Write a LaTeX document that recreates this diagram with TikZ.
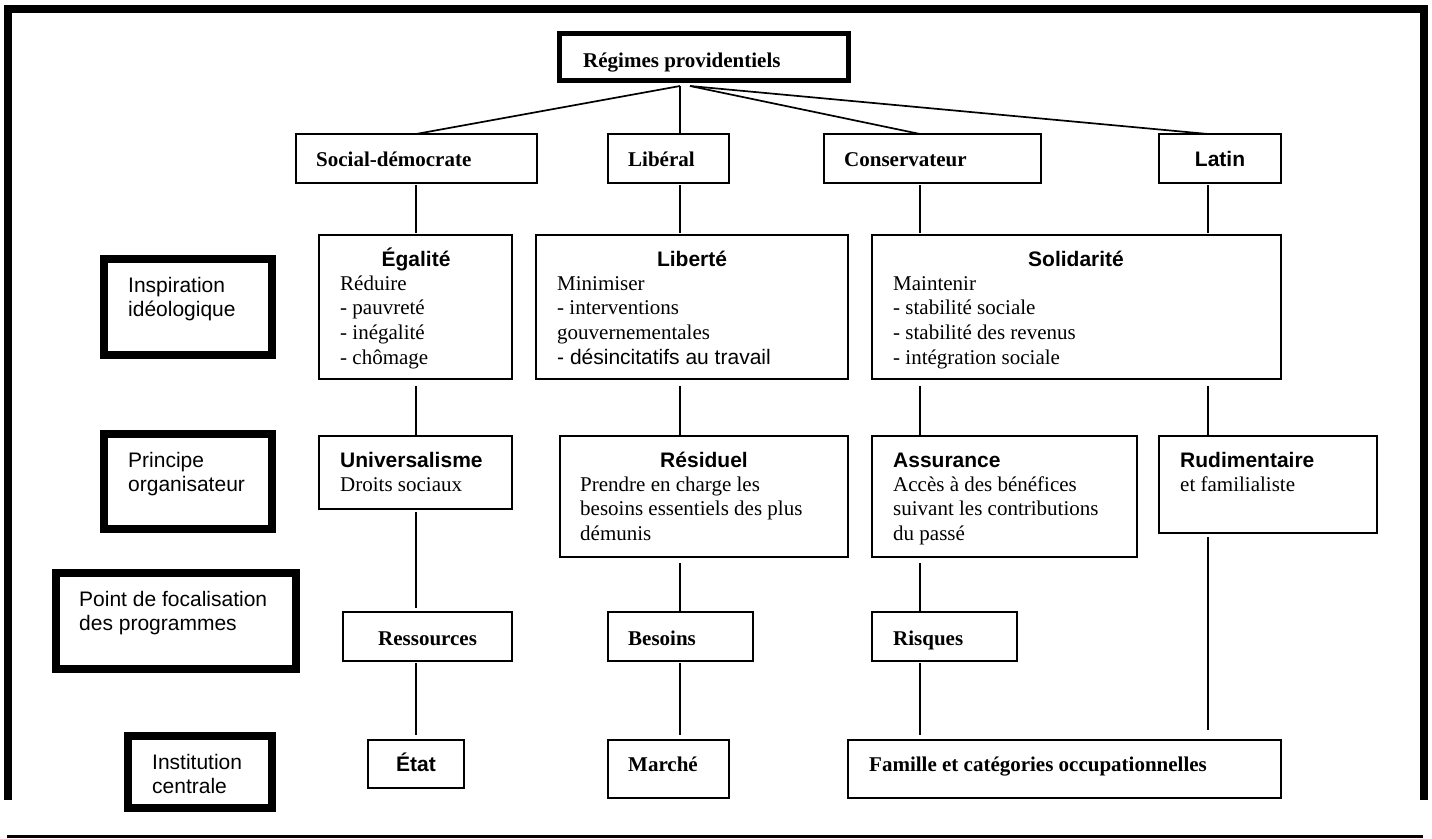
\documentclass[tikz,border=0pt]{standalone}
\usepackage{fontspec}
\setmainfont{Liberation Serif}
\setsansfont{Liberation Sans}
\usetikzlibrary{calc}
% common type size for every text of the chart
\newcommand\chartsize{\fontsize{21}{24.7}\selectfont}
% fixed height for the first line of a text block
\newcommand\firstline{\rule{0pt}{20pt}}
% a box given by its corners (x1,y1) and (x2,y2)
\newcommand\cellbox[6]{\node[#1, minimum width={#5pt-#3pt}, minimum height={#6pt-#4pt}] (#2) at ({(#3+#5)/2},{(#4+#6)/2}) {};}
\begin{document}
\begin{tikzpicture}[x=1pt,y=-1pt,
  cell/.style={draw, line width=1.8pt, inner sep=0pt, outer sep=0pt},
  rowlabel/.style={draw, line width=7.5pt, inner sep=0pt, outer sep=0pt},
  root/.style={draw, line width=5pt, inner sep=0pt, outer sep=0pt},
  link/.style={line width=1.7pt},
  frame/.style={line width=8pt},
  hd/.style={font=\chartsize\rmfamily\bfseries, inner sep=0pt, anchor=base west},
  shd/.style={font=\chartsize\sffamily\bfseries, inner sep=0pt, anchor=base west},
  body/.style={font=\chartsize\rmfamily, align=left, inner sep=0pt, anchor=north west},
  sbody/.style={font=\chartsize\sffamily, align=left, inner sep=0pt, anchor=north west},
]
\useasboundingbox (0,0) rectangle (1432,838);

% outer frame, open at the bottom, and the closing rule
\draw[frame] (8,800) -- (8,9) -- (1424,9) -- (1424,800);
\draw[line width=3pt] (7,836.5) -- (1423,836.5);

% root
\cellbox{root}{top}{559.5}{33.5}{848.5}{80.5}
\node[hd] (tTop) at (583,67) {Régimes providentiels};

% regimes
\cellbox{cell}{sd}{296}{134}{537}{183}
\cellbox{cell}{lib}{608}{134}{729}{183}
\cellbox{cell}{cons}{824}{134}{1041}{183}
\cellbox{cell}{lat}{1159}{134}{1281}{183}
\node[hd] (tSd) at (316,166) {Social-démocrate};
\node[hd] (tLib) at (628,166) {Libéral};
\node[hd] (tCons) at (844,166) {Conservateur};
\node[shd, anchor=base] (tLat) at (1220,166) {Latin};

% ideological inspiration
\cellbox{cell}{ega}{319}{235}{512}{379}
\cellbox{cell}{libe}{536}{235}{848}{379}
\cellbox{cell}{soli}{872}{235}{1281}{379}
\node[shd, anchor=base] (tEga) at (416,266) {Égalité};
\node[body] (bEga) at (340,270) {\firstline Réduire\\- pauvreté\\- inégalité\\- chômage};
\node[shd, anchor=base] (tLibe) at (692,266) {Liberté};
\node[body] (bLibe) at (557,270) {\firstline Minimiser\\- interventions\\gouvernementales\\{\sffamily - désincitatifs au travail}};
\node[shd, anchor=base] (tSoli) at (1076,266) {Solidarité};
\node[body] (bSoli) at (893,270) {\firstline Maintenir\\- stabilité sociale\\- stabilité des revenus\\- intégration sociale};

% organising principle
\cellbox{cell}{univ}{319}{436}{512}{509}
\cellbox{cell}{resi}{560}{436}{848}{557}
\cellbox{cell}{assu}{872}{436}{1137}{557}
\cellbox{cell}{rudi}{1159}{436}{1377}{533}
\node[shd] (tUniv) at (340,467) {Universalisme};
\node[body] (bUniv) at (340,471) {\firstline Droits sociaux};
\node[shd, anchor=base] (tResi) at (704,467) {Résiduel};
\node[body] (bResi) at (580,471) {\firstline Prendre en charge les\\besoins essentiels des plus\\démunis};
\node[shd] (tAssu) at (893,467) {Assurance};
\node[body] (bAssu) at (893,471) {\firstline Accès à des bénéfices\\suivant les contributions\\du passé};
\node[shd] (tRudi) at (1180,467) {Rudimentaire};
\node[body] (bRudi) at (1180,471) {\firstline et familialiste};

% programme focus
\cellbox{cell}{ress}{343}{612}{512}{661}
\cellbox{cell}{beso}{608}{612}{753}{661}
\cellbox{cell}{risq}{872}{612}{1017}{661}
\node[hd] (tRess) at (378,645) {Ressources};
\node[hd] (tBeso) at (628,645) {Besoins};
\node[hd] (tRisq) at (893,645) {Risques};

% central institution
\cellbox{cell}{etat}{368}{740}{464}{788}
\cellbox{cell}{marc}{608}{740}{729}{798}
\cellbox{cell}{fami}{848}{740}{1281}{798}
\node[shd, anchor=base] (tEtat) at (416,771) {État};
\node[hd] (tMarc) at (628,771) {Marché};
\node[hd] (tFami) at (869,771) {Famille et catégories occupationnelles};

% row headings
\cellbox{rowlabel}{insp}{104}{259}{272}{355}
\cellbox{rowlabel}{prin}{104}{434}{272}{529}
\cellbox{rowlabel}{poin}{56}{573}{296}{669}
\cellbox{rowlabel}{inst}{128}{736}{272}{808}
\node[sbody] (lInsp) at (128,272) {\firstline Inspiration\\idéologique};
\node[sbody] (lPrin) at (128,447) {\firstline Principe\\organisateur};
\node[sbody] (lPoin) at (79,586) {\firstline Point de focalisation\\des programmes};
\node[sbody] (lInst) at (152,749) {\firstline Institution\\centrale};

% column axes and fan-out points
\coordinate (cA) at (416,0);
\coordinate (cB) at (680,0);
\coordinate (cC) at (920,0);
\coordinate (cD) at (1208,0);
\coordinate (hubL) at (680,86);
\coordinate (hubR) at (690,86);

% connectors from the root
\draw[link] (hubL) -- (cA |- sd.north);
\draw[link] (hubL) -- (cB |- lib.north);
\draw[link] (hubR) -- (cC |- cons.north);
\draw[link] (hubR) -- (cD |- lat.north);

% regimes to ideals
\draw[link, shorten <=2pt, shorten >=2pt] (cA |- sd.south) -- (cA |- ega.north);
\draw[link, shorten <=2pt, shorten >=2pt] (cB |- lib.south) -- (cB |- libe.north);
\draw[link, shorten <=2pt, shorten >=2pt] (cC |- cons.south) -- (cC |- soli.north);
\draw[link, shorten <=2pt, shorten >=2pt] (cD |- lat.south) -- (cD |- soli.north);

% ideals to principles
\draw[link, shorten <=7pt] (cA |- ega.south) -- (cA |- univ.north);
\draw[link, shorten <=7pt] (cB |- libe.south) -- (cB |- resi.north);
\draw[link, shorten <=7pt] (cC |- soli.south) -- (cC |- assu.north);
\draw[link, shorten <=7pt] (cD |- soli.south) -- (cD |- rudi.north);

% principles to programme focus
\draw[link, shorten <=3pt, shorten >=4pt] (cA |- univ.south) -- (cA |- ress.north);
\draw[link, shorten <=6pt] (cB |- resi.south) -- (cB |- beso.north);
\draw[link, shorten <=6pt] (cC |- assu.south) -- (cC |- risq.north);
\draw[link, shorten <=4pt, shorten >=10pt] (cD |- rudi.south) -- (cD |- fami.north);

% programme focus to institutions
\draw[link, shorten <=2pt, shorten >=5pt] (cA |- ress.south) -- (cA |- etat.north);
\draw[link, shorten <=2pt, shorten >=5pt] (cB |- beso.south) -- (cB |- marc.north);
\draw[link, shorten <=2pt, shorten >=5pt] (cC |- risq.south) -- (cC |- fami.north);
\end{tikzpicture}
\end{document}
